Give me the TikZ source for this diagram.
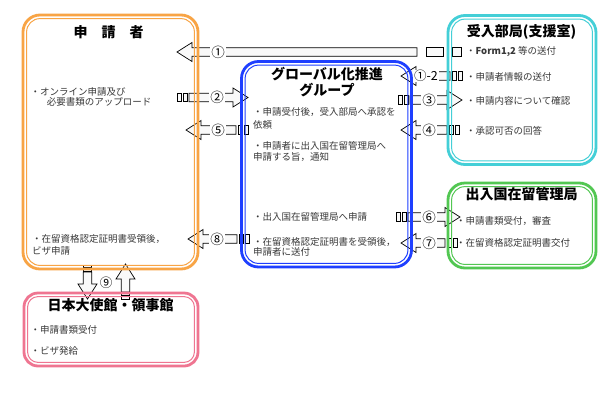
\documentclass[tikz,border=0pt]{standalone}
\usepackage{fontspec}
\setmainfont{Noto Sans CJK JP}
\usetikzlibrary{calc,backgrounds}

\definecolor{appline}{HTML}{F8A445}
\definecolor{globline}{HTML}{1E3FFF}
\definecolor{deptline}{HTML}{44CFD7}
\definecolor{immiline}{HTML}{52C752}
\definecolor{embline}{HTML}{EF7591}

\tikzset{sgap/.store in=\sgap, sa/.store in=\sa, sb/.store in=\sb,
  sgap=2, sa=4, sb=4}

% striped block arrow: [stripes]{tail}{tip}{label distance}{label}
\newcommand\barrow[5][]{%
  \path let \p1=(#2), \p2=(#3) in \pgfextra{%
    \pgfmathsetmacro\barang{atan2(\y2-\y1,\x2-\x1)}%
    \pgfmathsetmacro\barlen{veclen(\x2-\x1,\y2-\y1)}%
    \global\let\barang\barang \global\let\barlen\barlen};
  \begin{scope}[shift={(#2)}, rotate=\barang, #1]
    \draw[blockarr] (0,-4.25) -- ({\barlen-15},-4.25) -- ({\barlen-15},-9.5)
      -- (\barlen,0) -- ({\barlen-15},9.5) -- ({\barlen-15},4.25) -- (0,4.25) -- cycle;
    \draw[blockarr] (-\sgap,-4.25) rectangle ({-\sgap-\sa},4.25);
    \draw[blockarr] ({-2*\sgap-\sa},-4.25) rectangle ({-2*\sgap-\sa-\sb},4.25);
    \if\relax\detokenize{#5}\relax\else
      \node[numlab] at (#4,0) {#5};
    \fi
  \end{scope}}

\begin{document}
\begin{tikzpicture}[x=1pt, y=-1pt,
  panel/.style={draw=#1, line width=2.8pt, rounded corners=17pt, outer sep=0pt, inner sep=0pt},
  ttl/.style={font=\fontsize{14}{16}\selectfont\bfseries, inner sep=0pt, align=center},
  txt/.style={font=\fontsize{9.5}{11}\selectfont, text=black!78, inner sep=0pt,
              anchor=west, align=left},
  blockarr/.style={draw=black, line width=0.7pt, fill=gray!5, line join=miter},
  numlab/.style={fill=white, inner xsep=1.5pt, inner ysep=0pt, font=\fontsize{13.5}{13.5}\selectfont}
]
\useasboundingbox (0,0) rectangle (600,400);

% ================= boxes =================
\node[panel=appline, minimum width=175, minimum height=254] (app) at (110.5,142) {};
\node[panel=globline, minimum width=170, minimum height=205.5] (glob) at (326.5,164.25) {};
\node[panel=deptline, minimum width=148, minimum height=149] (dept) at (522,90) {};
\node[panel=immiline, minimum width=148, minimum height=85] (immi) at (522,225.5) {};
\node[panel=embline, rounded corners=14pt, minimum width=174, minimum height=73] (emb) at (111,329.5) {};
\foreach \n/\c/\r in {app/appline/13.4, glob/globline/13.4, dept/deptline/13.4,
                      immi/immiline/13.4, emb/embline/10.4}
  \draw[\c, line width=1pt, rounded corners=\r]
    ([shift={(3.6,-3.6)}]\n.south west) rectangle ([shift={(-3.6,3.6)}]\n.north east);

% ================= titles =================
\node[ttl] (appT) at (108.5,32) {申　請　者};
\node[ttl] (globT) at (327,82.5) {グローバル化推進\\グループ};
\node[ttl] (deptT) at (521.5,32) {受入部局(支援室)};
\node[ttl] (immiT) at (521.5,194) {出入国在留管理局};
\node[ttl] (embT) at (110.5,305) {日本大使館・領事館};

% ================= body texts =================
\node[txt, font=\fontsize{9.5}{10}\selectfont] (appA) at (30.5,97)
  {・オンライン申請及び\\\hspace*{1.7em}必要書類のアップロード};
\node[txt, font=\fontsize{9.5}{11.5}\selectfont] (appB) at (32,245)
  {・在留資格認定証明書受領後，\\ビザ申請};

\node[txt] (globA) at (253,118.5) {・申請受付後，受入部局へ承認を\\[2.3pt]依頼};
\node[txt] (globB) at (253,151.3) {・申請者に出入国在留管理局へ\\申請する旨，通知};
\node[txt] (globC) at (253,216.7) {・出入国在留管理局へ申請};
\node[txt, font=\fontsize{9.5}{10}\selectfont] (globD) at (253,246.7)
  {・在留資格認定証明書を受領後，\\申請者に送付};

\node[txt] (deptA) at (466,51.7) {・\textbf{Form1,2} 等の送付};
\node[txt] (deptB) at (466,76.7) {・申請者情報の送付};
\node[txt] (deptC) at (466,100.7) {・申請内容について確認};
\node[txt] (deptD) at (466,130.7) {・承認可否の回答};

\node[txt] (immiA) at (456,221) {・申請書類受付，審査};
\node[txt] (immiB) at (456,242.7) {・在留資格認定証明書交付};

\node[txt] (embA) at (30.5,330) {・申請書類受付};
\node[txt] (embB) at (30.5,351) {・ビザ発給};

% ================= block arrows (behind the frames) =================
\coordinate (s1) at (417,52);     \coordinate (e1) at (177,52);
\coordinate (s2) at (189,97.5);   \coordinate (e2) at (248,97.5);
\coordinate (s5) at (236,130);    \coordinate (e5) at (186,130);
\coordinate (s12) at (450,76);    \coordinate (e12) at (401,76);
\coordinate (s3) at (410,100);    \coordinate (e3) at (462,100);
\coordinate (s4) at (447,130);    \coordinate (e4) at (401,130);
\coordinate (s6) at (408,217);    \coordinate (e6) at (460,217);
\coordinate (s7) at (445,243);    \coordinate (e7) at (401,243);
\coordinate (s8) at (237,239);    \coordinate (e8) at (188,239);
\coordinate (s9a) at (87.5,272);  \coordinate (e9a) at (87.5,299);
\coordinate (s9b) at (125.5,292); \coordinate (e9b) at (125.5,264);

\begin{scope}[on background layer]
  \fill[white] (0,0) rectangle (600,400);
  \barrow[sgap=9, sa=17, sb=9]{s1}{e1}{199}{①}
  \barrow{s2}{e2}{28}{②}
  \barrow{s5}{e5}{18}{⑤}
  \barrow{s12}{e12}{24}{\fontsize{12.5}{12.5}\selectfont①-2}
  \barrow{s3}{e3}{19}{③}
  \barrow{s4}{e4}{18}{④}
  \barrow{s6}{e6}{21}{⑥}
  \barrow{s7}{e7}{16}{⑦}
  \barrow{s8}{e8}{20}{⑧}
  \barrow[sgap=1, sa=2.5, sb=2.5]{s9a}{e9a}{0}{}
  \barrow[sgap=1, sa=2.5, sb=2.5]{s9b}{e9b}{0}{}
\end{scope}
\node[font=\fontsize{12.5}{12.5}\selectfont, inner sep=0pt] (n9) at (106,283) {⑨};
\end{tikzpicture}
\end{document}
